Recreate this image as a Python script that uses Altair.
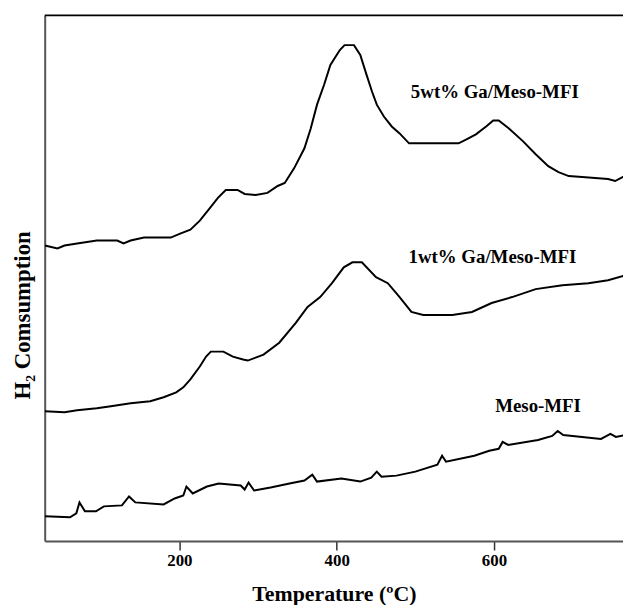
import altair as alt
import pandas as pd

# ---- data (temperature in °C, signal in arbitrary units) ----
t_5wt = [29, 45, 54, 70, 95, 121, 129, 138, 155, 189, 201, 214, 226, 239, 249, 259, 274,
         283, 297, 312, 325, 334, 346, 359, 367, 375, 384, 392, 404, 410, 422, 430, 438,
         445, 451, 460, 470, 480, 492, 555, 565, 577, 590, 599, 606, 619, 637, 653, 669,
         682, 695, 712, 745, 754, 766]
h_5wt = [298, 295, 298, 300, 303, 303, 300, 303, 306, 306, 310, 314, 323, 336, 346, 354, 354,
         350, 349, 351, 358, 361, 376, 396, 416, 440, 460, 480, 495, 500, 500, 490, 470,
         453, 440, 428, 418, 411, 401, 401, 405, 410, 418, 424, 424, 416, 403, 390, 378,
         372, 368, 367, 365, 363, 368]

t_1wt = [29, 54, 70, 95, 113, 138, 163, 180, 196, 205, 214, 226, 234, 240, 256, 268, 281,
         287, 307, 327, 348, 363, 379, 394, 409, 420, 432, 450, 465, 480, 495, 510, 547,
         572, 597, 623, 653, 687, 720, 745, 767]
h_1wt = [131, 130, 132, 134, 136, 139, 141, 145, 150, 155, 163, 176, 186, 191, 191, 186, 183,
         182, 188, 200, 220, 236, 246, 260, 276, 281, 281, 266, 260, 246, 231, 228, 228,
         231, 240, 246, 254, 258, 260, 263, 268]

t_meso = [29, 61, 69, 73, 80, 94, 104, 127, 136, 144, 180, 194, 205, 209, 217, 235, 250,
          278, 283, 288, 295, 316, 340, 359, 369, 375, 406, 430, 444, 451, 457, 476, 500,
          528, 534, 539, 575, 594, 606, 611, 618, 656, 674, 681, 688, 736, 748, 755, 768]
h_meso = [25, 24, 28, 39, 30, 30, 35, 36, 45, 39, 37, 43, 46, 55, 48, 55, 58,
          56, 52, 59, 51, 54, 58, 61, 67, 60, 63, 60, 64, 70, 65, 66, 70,
          77, 86, 80, 86, 91, 93, 100, 97, 102, 106, 111, 107, 103, 108, 105, 107]

label_text = ["5wt% Ga/Meso-MFI", "1wt% Ga/Meso-MFI", "Meso-MFI"]
label_t = [601, 598, 656]
label_h = [453, 286, 136]

x_ticks = [200, 400, 600]

rows = []
for name, ts, hs in [("5wt", t_5wt, h_5wt), ("1wt", t_1wt, h_1wt), ("meso", t_meso, h_meso)]:
    for i, (t, h) in enumerate(zip(ts, hs)):
        rows.append({"series": name, "T": t, "H": h, "order": i})
df = pd.DataFrame(rows)
labels = pd.DataFrame({"label": label_text, "T": label_t, "H": label_h})

FONT = "Liberation Serif"
W, H = 583, 530

xscale = alt.Scale(domain=[28.8, 764], nice=False, zero=False)
yscale = alt.Scale(domain=[0, 530], nice=False, zero=False)

x_enc = alt.X("T:Q", scale=xscale, axis=alt.Axis(
    values=x_ticks, title="Temperature (ºC)", grid=False,
    domainColor="#555555", domainWidth=2, tickColor="#333333", tickWidth=1.5, tickSize=9,
    labelFont=FONT, labelFontWeight="bold", labelFontSize=17, labelColor="black", labelPadding=3,
    titleFont=FONT, titleFontWeight="bold", titleFontSize=22, titleColor="black", titlePadding=15))
y_enc = alt.Y("H:Q", scale=yscale, axis=alt.Axis(
    labels=False, ticks=False, grid=False, title="H₂ Comsumption",
    domainColor="#555555", domainWidth=2,
    titleFont=FONT, titleFontWeight="bold", titleFontSize=23, titleColor="black",
    titleAngle=270, titleX=-22, titleY=302, titleAlign="center", titleBaseline="middle"))

lines = alt.Chart(df).mark_line(color="black", strokeWidth=2, clip=True).encode(
    x=x_enc, y=y_enc, detail="series:N", order="order:Q")

text = alt.Chart(labels).mark_text(font=FONT, fontWeight="bold", fontSize=19, color="black",
                                   align="center", baseline="middle").encode(
    x=alt.X("T:Q", scale=xscale), y=alt.Y("H:Q", scale=yscale), text="label:N")

top = alt.Chart(pd.DataFrame({"a": [0]})).mark_rule(color="black", strokeWidth=2).encode(
    x=alt.value(0), x2=alt.value(W), y=alt.value(0))

chart = alt.layer(lines, text, top).properties(
    width=W, height=H,
    autosize=alt.AutoSizeParams(type="none"),
    padding={"left": 37, "top": 5, "right": 0, "bottom": 62},
).configure_view(stroke=None)

chart.save("out.html", embed_options={"renderer": "svg", "actions": False})
